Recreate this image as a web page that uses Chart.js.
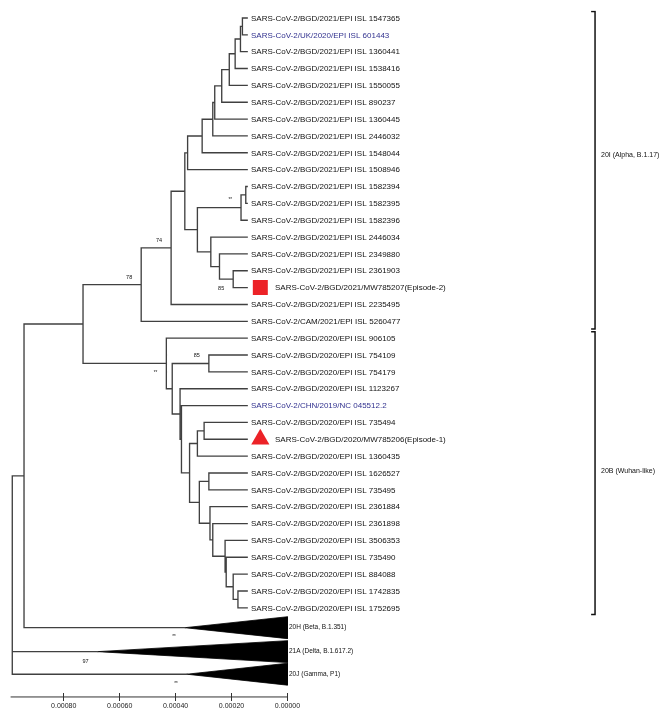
<!DOCTYPE html>
<html>
<head>
<meta charset="utf-8">
<script src="https://cdn.jsdelivr.net/npm/chart.js@4.4.0/dist/chart.umd.min.js"></script>
<style>
  html, body { margin: 0; padding: 0; background: #fff; }
</style>
</head>
<body>
<canvas id="tree" width="668" height="708"></canvas>
<script>
// tips, top to bottom (row index = position in list)
const tipLabels = [
  'SARS-CoV-2/BGD/2021/EPI ISL 1547365',
  'SARS-CoV-2/UK/2020/EPI ISL 601443',
  'SARS-CoV-2/BGD/2021/EPI ISL 1360441',
  'SARS-CoV-2/BGD/2021/EPI ISL 1538416',
  'SARS-CoV-2/BGD/2021/EPI ISL 1550055',
  'SARS-CoV-2/BGD/2021/EPI ISL 890237',
  'SARS-CoV-2/BGD/2021/EPI ISL 1360445',
  'SARS-CoV-2/BGD/2021/EPI ISL 2446032',
  'SARS-CoV-2/BGD/2021/EPI ISL 1548044',
  'SARS-CoV-2/BGD/2021/EPI ISL 1508946',
  'SARS-CoV-2/BGD/2021/EPI ISL 1582394',
  'SARS-CoV-2/BGD/2021/EPI ISL 1582395',
  'SARS-CoV-2/BGD/2021/EPI ISL 1582396',
  'SARS-CoV-2/BGD/2021/EPI ISL 2446034',
  'SARS-CoV-2/BGD/2021/EPI ISL 2349880',
  'SARS-CoV-2/BGD/2021/EPI ISL 2361903',
  'SARS-CoV-2/BGD/2021/MW785207(Episode-2)',
  'SARS-CoV-2/BGD/2021/EPI ISL 2235495',
  'SARS-CoV-2/CAM/2021/EPI ISL 5260477',
  'SARS-CoV-2/BGD/2020/EPI ISL 906105',
  'SARS-CoV-2/BGD/2020/EPI ISL 754109',
  'SARS-CoV-2/BGD/2020/EPI ISL 754179',
  'SARS-CoV-2/BGD/2020/EPI ISL 1123267',
  'SARS-CoV-2/CHN/2019/NC 045512.2',
  'SARS-CoV-2/BGD/2020/EPI ISL 735494',
  'SARS-CoV-2/BGD/2020/MW785206(Episode-1)',
  'SARS-CoV-2/BGD/2020/EPI ISL 1360435',
  'SARS-CoV-2/BGD/2020/EPI ISL 1626527',
  'SARS-CoV-2/BGD/2020/EPI ISL 735495',
  'SARS-CoV-2/BGD/2020/EPI ISL 2361884',
  'SARS-CoV-2/BGD/2020/EPI ISL 2361898',
  'SARS-CoV-2/BGD/2020/EPI ISL 3506353',
  'SARS-CoV-2/BGD/2020/EPI ISL 735490',
  'SARS-CoV-2/BGD/2020/EPI ISL 884088',
  'SARS-CoV-2/BGD/2020/EPI ISL 1742835',
  'SARS-CoV-2/BGD/2020/EPI ISL 1752695'
];
const referenceTips = [1, 23];          // shown in blue
const markerTips = [16, 25];            // this study's two episodes
const markerShapes = ['rect', 'triangle'];
const tipDistance = 0.000144;
const markerDistance = 0.000097;

// internal nodes: distance on the axis and children (tip index or node/clade name)
const nodeNames = ['a', 'b', 'c', 'd', 'e', 'f', 'g', 'h', 'i', 'm', 'n', 'p', 'q', 's', 't', 'j', 'NA1', 'NA',
  'u', 'v', 'NB6', 'w', 'NB13', 'NB12', 'NB11', 'NB10', 'NB9', 'NB8', 'NB7', 'NB5', 'NB4', 'NB3', 'NB2', 'NB',
  'N2', 'N1', 'root'];
const nodeDistances = [0.000161, 0.000168, 0.000187, 0.000208, 0.000235, 0.000260, 0.000267, 0.000305, 0.000357,
  0.000149, 0.000166, 0.000194, 0.000243, 0.000274, 0.000322, 0.000367, 0.000416, 0.000523,
  0.000281, 0.000298, 0.000322, 0.000281, 0.000177, 0.000194, 0.000219, 0.000223, 0.000267, 0.000277, 0.000315,
  0.000350, 0.000379, 0.000384, 0.000412, 0.000433,
  0.000731, 0.000942, 0.000984];
const nodeChildren = [[0, 1], ['a', 2], ['b', 3], ['c', 4], ['d', 5], ['e', 6], ['f', 7], ['g', 8], ['h', 9],
  [10, 11], ['m', 12], [15, 16], [14, 'p'], [13, 'q'], ['n', 's'], ['i', 't'], ['j', 17], ['NA1', 18],
  [20, 21], [24, 25], ['v', 26], [27, 28], [34, 35], [33, 'NB13'], [32, 'NB12'], [31, 'NB11'], [30, 'NB10'],
  [29, 'NB9'], ['w', 'NB8'], ['NB6', 'NB7'], [23, 'NB5'], [22, 'NB4'], ['u', 'NB3'], [19, 'NB2'],
  ['NA', 'NB'], ['N2', '20H'], ['N1', '21A', '20J']];

// collapsed clades (triangles)
const cladeNames = ['20H', '21A', '20J'];
const cladeLabels = ['20H (Beta, B.1.351)', '21A (Delta, B.1.617.2)', '20J (Gamma, P1)'];
const cladeRows = [36.18, 37.60, 38.94];
const cladeApex = [0.000367, 0.000679, 0.000360];
const cladeSpan = 0.65;

// bootstrap values, drawn on the branch leading to the named node
const supportNodes = ['NA', 'NA1', 'n', 'p', 'u', 'NB', '20H', '21A', '20J'];
const supportValues = ['78', '74', '**', '85', '85', '**', '**', '97', '**'];
const supportBelow = [false, false, false, true, false, true, true, true, true];

// brackets on the right
const bracketLabels = ['20I (Alpha, B.1.17)', '20B (Wuhan-like)'];
const bracketTop = [-0.38, 18.62];
const bracketBottom = [18.45, 35.4];
const bracketLabelRow = [8.15, 26.9];

const axisTicks = [0.0008, 0.0006, 0.0004, 0.0002, 0];

// layout (scale ranges picked so that 0.00000 lands at x=286)
const X_MIN = -0.001323, X_MAX = 0.000990;
const Y_MIN = -0.438, Y_MAX = 40.055;
const AXIS_ROW = 40.29;
const BRACKET_X = -0.001100, BRACKET_HOOK = -0.001086;

// positions of every node
const pos = {};
tipLabels.forEach((_, i) => { pos[i] = { x: tipDistance, y: i }; });
cladeNames.forEach((c, i) => { pos[c] = { x: cladeApex[i], y: cladeRows[i] }; });
function place(name) {
  if (pos[name]) return pos[name];
  const k = nodeNames.indexOf(name);
  const kids = nodeChildren[k].map(place);
  pos[name] = { x: nodeDistances[k], y: (kids[0].y + kids[kids.length - 1].y) / 2 };
  return pos[name];
}
place('root');

const branchPoints = [];
nodeNames.forEach((name, k) => {
  const p = pos[name];
  const kids = nodeChildren[k].map(c => pos[c]);
  branchPoints.push({ x: p.x, y: kids[0].y }, { x: p.x, y: kids[kids.length - 1].y }, { x: null, y: null });
  kids.forEach(c => branchPoints.push({ x: p.x, y: c.y }, { x: c.x, y: c.y }, { x: null, y: null }));
});

const datasets = [{
  data: branchPoints,
  borderColor: '#404040',
  borderWidth: 1.35,
  borderCapStyle: 'square',
  pointRadius: 0,
  spanGaps: false
}];

cladeNames.forEach((c, i) => {
  datasets.push({
    data: [
      { x: cladeApex[i], y: cladeRows[i] },
      { x: 0, y: cladeRows[i] - cladeSpan },
      { x: 0, y: cladeRows[i] + cladeSpan },
      { x: cladeApex[i], y: cladeRows[i] }
    ],
    borderColor: '#000',
    backgroundColor: '#000',
    borderWidth: 0.8,
    pointRadius: 0,
    fill: 'shape'
  });
});

markerTips.forEach((t, i) => {
  datasets.push({
    data: [{ x: markerDistance, y: t }],
    showLine: false,
    pointStyle: markerShapes[i],
    pointRadius: i === 0 ? 10.6 : 10.5,
    backgroundColor: '#ec2227',
    borderColor: '#ec2227',
    borderWidth: 0
  });
});

bracketLabels.forEach((_, i) => {
  datasets.push({
    data: [
      { x: BRACKET_HOOK, y: bracketTop[i] },
      { x: BRACKET_X, y: bracketTop[i] },
      { x: BRACKET_X, y: bracketBottom[i] },
      { x: BRACKET_HOOK, y: bracketBottom[i] }
    ],
    borderColor: '#111',
    borderWidth: 1.5,
    pointRadius: 0
  });
});

// the scale bar line under the tree
datasets.push({
  data: [{ x: X_MAX, y: AXIS_ROW }, { x: 0, y: AXIS_ROW }],
  borderColor: '#333',
  borderWidth: 1,
  pointRadius: 0,
  clip: false
});

const FONT = '"Liberation Sans", Arial, sans-serif';

const treeText = {
  id: 'treeText',
  afterDatasetsDraw(chart) {
    const { ctx, scales: { x, y } } = chart;
    ctx.save();
    ctx.textBaseline = 'middle';
    ctx.textAlign = 'left';

    ctx.font = '8px ' + FONT;
    tipLabels.forEach((label, i) => {
      const px = markerTips.includes(i)
        ? x.getPixelForValue(markerDistance) + 14.7
        : x.getPixelForValue(tipDistance) + 3.8;
      ctx.fillStyle = referenceTips.includes(i) ? '#32328f' : '#111';
      ctx.fillText(label, px, y.getPixelForValue(i) + 0.5);
    });

    ctx.font = '6.5px ' + FONT;
    ctx.fillStyle = '#111';
    cladeLabels.forEach((label, i) => {
      ctx.fillText(label, x.getPixelForValue(0) + 1.5, y.getPixelForValue(cladeRows[i]));
    });
    ctx.font = '7px ' + FONT;
    bracketLabels.forEach((label, i) => {
      ctx.fillText(label, x.getPixelForValue(BRACKET_X) + 6, y.getPixelForValue(bracketLabelRow[i]));
    });

    ctx.textAlign = 'right';
    supportNodes.forEach((n, i) => {
      const p = pos[n];
      ctx.font = (supportValues[i] === '**' ? '4.5px ' : '5.5px ') + FONT;
      const dy = supportBelow[i] ? 9.5 : -7.5;
      ctx.fillText(supportValues[i], x.getPixelForValue(p.x) - 9, y.getPixelForValue(p.y) + dy);
    });
    ctx.restore();
  }
};

new Chart(document.getElementById('tree'), {
  type: 'line',
  data: { datasets },
  options: {
    responsive: false,
    animation: false,
    events: [],
    layout: { padding: 0 },
    plugins: { legend: { display: false }, tooltip: { enabled: false } },
    scales: {
      x: {
        type: 'linear',
        reverse: true,
        min: X_MIN,
        max: X_MAX,
        bounds: 'data',
        border: { display: false },
        grid: { drawOnChartArea: false, drawTicks: true, tickLength: 8, color: '#333', lineWidth: 1 },
        ticks: {
          autoSkip: false,
          maxRotation: 0,
          padding: 1,
          color: '#222',
          font: { family: FONT, size: 7 },
          callback: v => Number(v).toFixed(5)
        },
        afterBuildTicks: scale => { scale.ticks = axisTicks.map(v => ({ value: v })); },
        afterFit: scale => { scale.height = 15; }
      },
      y: {
        type: 'linear',
        reverse: true,
        min: Y_MIN,
        max: Y_MAX,
        bounds: 'data',
        display: false
      }
    }
  },
  plugins: [treeText]
});
</script>
</body>
</html>
